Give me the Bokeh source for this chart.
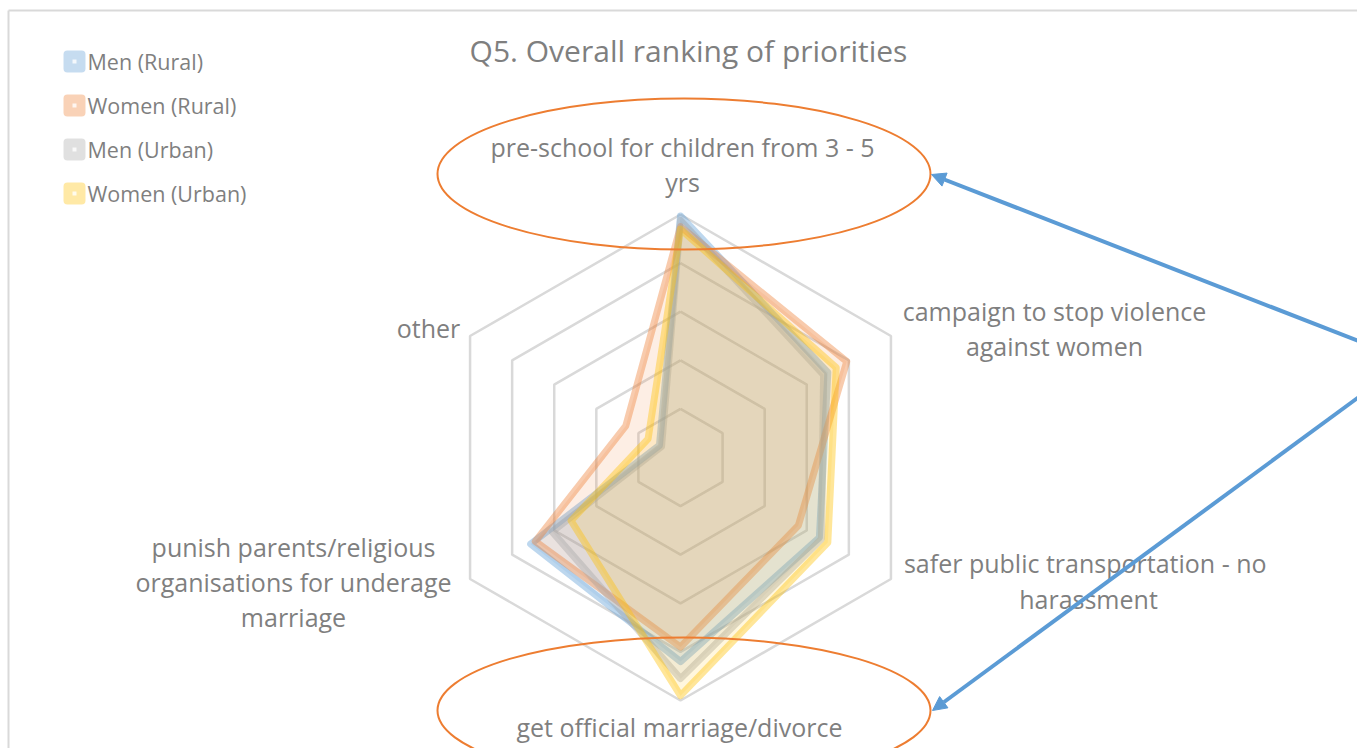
import numpy as np
from bokeh.plotting import figure
from bokeh.models import Range1d, Arrow, NormalHead
from bokeh.core.properties import value
from bokeh.embed import file_html
from bokeh.resources import INLINE

# ---------------- data ----------------
categories = [
    "pre-school for children from 3 - 5 yrs",
    "campaign to stop violence against women",
    "safer public transportation  - no harassment",
    "get official marriage/divorce",
    "punish parents/religious organisations for underage marriage",
    "other",
]
series_names = ["Men (Rural)", "Women (Rural)", "Men (Urban)", "Women (Urban)"]
men_rural = [4.97, 3.50, 3.30, 4.20, 3.56, 0.50]
women_rural = [4.75, 3.95, 2.80, 3.90, 3.45, 1.30]
men_urban = [4.88, 3.40, 3.35, 4.55, 3.05, 0.45]
women_urban = [4.70, 3.70, 3.50, 4.90, 2.60, 0.77]
ring_values = [1, 2, 3, 4, 5]
title_text = "Q5. Overall ranking of priorities"

# ---------------- style / layout ----------------
colors = ["#5B9BD5", "#ED7D31", "#A5A5A5", "#FFC000"]
TEXT = "#7F7F7F"
GRID = "#D9D9D9"
FONT = "Open Sans"
W, H = 1357, 748
OFF = 0
CX, CY = 680, 457          # radar centre (picture pixels)
R_PX = 243                 # outer ring radius in pixels
VMAX = 5.0


def dx(x):
    return x - CX


def dy(y):
    return CY - y


p = figure(width=W, height=H, output_backend="svg", toolbar_location=None,
           x_range=Range1d(dx(OFF), dx(OFF + W)), y_range=Range1d(dy(OFF + H), dy(OFF)),
           x_axis_type=None, y_axis_type=None, min_border=0,
           background_fill_color="white", border_fill_color="white")
p.grid.visible = False
p.outline_line_color = None

n = len(categories)
ang = np.deg2rad(90 - 60 * np.arange(n))
k = R_PX / VMAX

# chart border
p.line([dx(8), dx(8)], [dy(OFF + H + 5), dy(10)], line_color=GRID, line_width=2)
p.line([dx(8), dx(OFF + W + 5)], [dy(10), dy(10)], line_color=GRID, line_width=2)

# rings
for rv in ring_values:
    xs = list(rv * k * np.cos(ang)) + [rv * k * np.cos(ang[0])]
    ys = list(rv * k * np.sin(ang)) + [rv * k * np.sin(ang[0])]
    p.line(xs, ys, line_color=GRID, line_width=2.5)

# series
for vals, col in zip([men_rural, women_rural, men_urban, women_urban], colors):
    v = np.array(vals)
    p.patch(v * k * np.cos(ang), v * k * np.sin(ang), fill_color=col, fill_alpha=0.13,
            line_color=col, line_alpha=0.4, line_width=7, line_join="round")

# category labels (lines, picture positions)
label_lines = [
    ("pre-school for children from 3 - 5", 682, 146),
    ("yrs", 682, 181),
    ("campaign to stop violence", 1054, 310),
    ("against women", 1054, 345),
    ("safer public transportation  - no", 1088, 562),
    ("harassment", 1088, 598),
    ("get official marriage/divorce", 679, 726),
    ("punish parents/religious", 293, 546),
    ("organisations for underage", 293, 581),
    ("marriage", 293, 616),
    ("other", 428, 327),
]
p.text([dx(t[1]) for t in label_lines], [dy(t[2]) for t in label_lines],
       text=[t[0] for t in label_lines], text_font=value(FONT), text_font_size="25px",
       text_color=TEXT, text_align="center", text_baseline="middle")

# title
p.text([dx(688)], [dy(50)], text=[title_text], text_font=value(FONT), text_font_size="30px",
       text_color=TEXT, text_align="center", text_baseline="middle")

# legend
leg_y = [61, 105, 149, 193]
for name, col, yy in zip(series_names, colors, leg_y):
    p.quad(left=[dx(63)], right=[dx(85)], top=[dy(yy - 11)], bottom=[dy(yy + 11)],
           fill_color=col, fill_alpha=0.35, line_color=None, border_radius=4)
    p.quad(left=[dx(72)], right=[dx(76)], top=[dy(yy - 2)], bottom=[dy(yy + 2)],
           fill_color="white", fill_alpha=0.8, line_color=None)
    p.text([dx(87)], [dy(yy)], text=[name], text_font=value(FONT), text_font_size="21.5px",
           text_color=TEXT, text_align="left", text_baseline="middle")

# annotations: ellipses and arrows
p.ellipse([dx(683.5)], [dy(173.5)], width=493, height=151, fill_color=None,
          line_color="#ED7D31", line_width=2)
p.ellipse([dx(683.5)], [dy(710)], width=493, height=146, fill_color=None,
          line_color="#ED7D31", line_width=2)
for tx, ty in [(931, 174), (932, 710)]:
    p.add_layout(Arrow(end=NormalHead(size=14, fill_color="#5B9BD5", line_color="#5B9BD5"),
                       x_start=dx(1408), y_start=dy(360), x_end=dx(tx), y_end=dy(ty),
                       line_color="#5B9BD5", line_width=4))

open("out.html", "w").write(file_html(p, INLINE))
